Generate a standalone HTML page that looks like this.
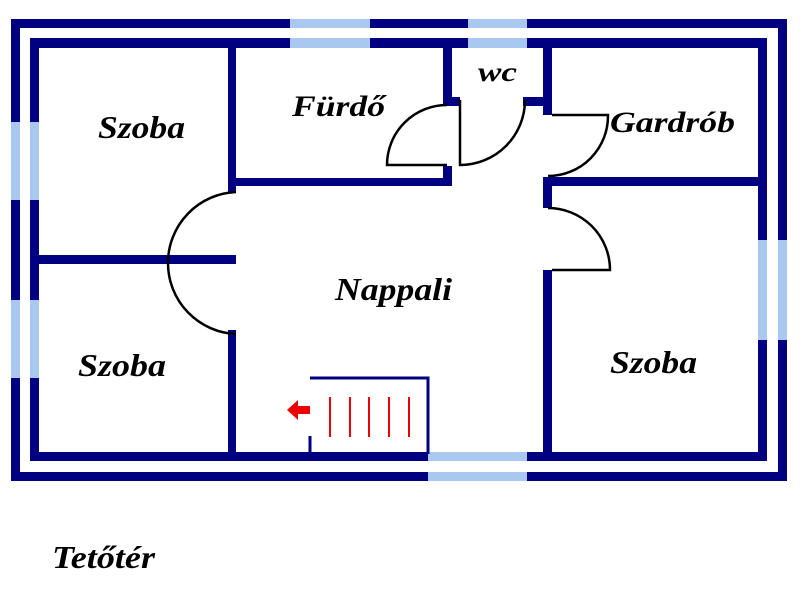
<!DOCTYPE html>
<html><head><meta charset="utf-8"><style>
html,body{margin:0;padding:0;background:#fff;width:800px;height:600px;overflow:hidden}
text{font-family:"Liberation Serif",serif;font-weight:bold;font-style:italic;fill:#000}
</style></head><body>
<svg width="800" height="600" viewBox="0 0 800 600" xmlns="http://www.w3.org/2000/svg">
<g fill="#000080">
<rect x="11" y="19" width="776" height="9"/>
<rect x="11" y="19" width="9" height="462"/>
<rect x="778" y="19" width="9" height="462"/>
<rect x="11" y="472" width="776" height="9"/>
<rect x="30" y="38" width="737" height="10"/>
<rect x="30" y="38" width="9" height="423"/>
<rect x="758" y="38" width="9" height="423"/>
<rect x="30" y="452" width="737" height="9"/>
<rect x="228" y="48" width="8" height="144"/>
<rect x="228" y="178" width="224" height="8"/>
<rect x="443" y="48" width="9" height="58"/>
<rect x="443" y="166" width="9" height="20"/>
<rect x="443" y="97" width="17" height="9"/>
<rect x="523" y="97" width="29" height="9"/>
<rect x="543" y="48" width="9" height="67"/>
<rect x="543" y="177" width="224" height="9"/>
<rect x="543" y="177" width="9" height="31"/>
<rect x="543" y="270" width="9" height="186"/>
<rect x="39" y="255" width="197" height="9"/>
<rect x="228" y="330" width="8" height="126"/>
</g>
<g fill="#a8c8f0">
<rect x="290" y="19" width="80" height="9"/><rect x="290" y="38" width="80" height="10"/>
<rect x="468" y="19" width="59" height="9"/><rect x="468" y="38" width="59" height="10"/>
<rect x="11" y="122" width="9" height="78"/><rect x="30" y="122" width="9" height="78"/>
<rect x="11" y="300" width="9" height="78"/><rect x="30" y="300" width="9" height="78"/>
<rect x="758" y="240" width="9" height="100"/><rect x="778" y="240" width="9" height="100"/>
<rect x="428" y="452" width="99" height="9"/><rect x="428" y="472" width="99" height="9"/>
</g>
<g fill="none" stroke="#000" stroke-width="2.5">
<path d="M236 192 A71 71 0 0 0 168 263 A71 71 0 0 0 236 334"/>
<path d="M447 105 A60 60 0 0 0 387 165 L447 165"/>
<path d="M460 100 L460 165 A65 65 0 0 0 525 100"/>
<path d="M552 115 L608 115 A60 60 0 0 1 548 176"/>
<path d="M548 208 A62 62 0 0 1 610 270 L552 270"/>
</g>
<g stroke="#000080" stroke-width="3" fill="none">
<path d="M310 378 L428 378 L428 454"/>
<path d="M310 436 L310 454"/>
</g>
<g stroke="#e00" stroke-width="2">
<line x1="330" y1="397" x2="330" y2="437"/><line x1="350" y1="397" x2="350" y2="437"/>
<line x1="369" y1="397" x2="369" y2="437"/><line x1="389" y1="397" x2="389" y2="437"/>
<line x1="409" y1="397" x2="409" y2="437"/>
</g>
<polygon points="287,410 298,400 298,406 310,406 310,414 298,414 298,420" fill="#e00"/>
<g lengthAdjust="spacingAndGlyphs">
<text x="98" y="138" font-size="32" textLength="87" lengthAdjust="spacingAndGlyphs">Szoba</text>
<text x="292" y="116" font-size="30" textLength="93" lengthAdjust="spacingAndGlyphs">Fürdő</text>
<text x="478" y="81" font-size="27" textLength="39" lengthAdjust="spacingAndGlyphs">wc</text>
<text x="610" y="132" font-size="30" textLength="125" lengthAdjust="spacingAndGlyphs">Gardrób</text>
<text x="335" y="300" font-size="32" textLength="117" lengthAdjust="spacingAndGlyphs">Nappali</text>
<text x="78" y="376" font-size="32" textLength="88" lengthAdjust="spacingAndGlyphs">Szoba</text>
<text x="610" y="373" font-size="32" textLength="87" lengthAdjust="spacingAndGlyphs">Szoba</text>
<text x="52" y="568" font-size="32" textLength="103" lengthAdjust="spacingAndGlyphs">Tetőtér</text>
</g>
</svg>
</body></html>
